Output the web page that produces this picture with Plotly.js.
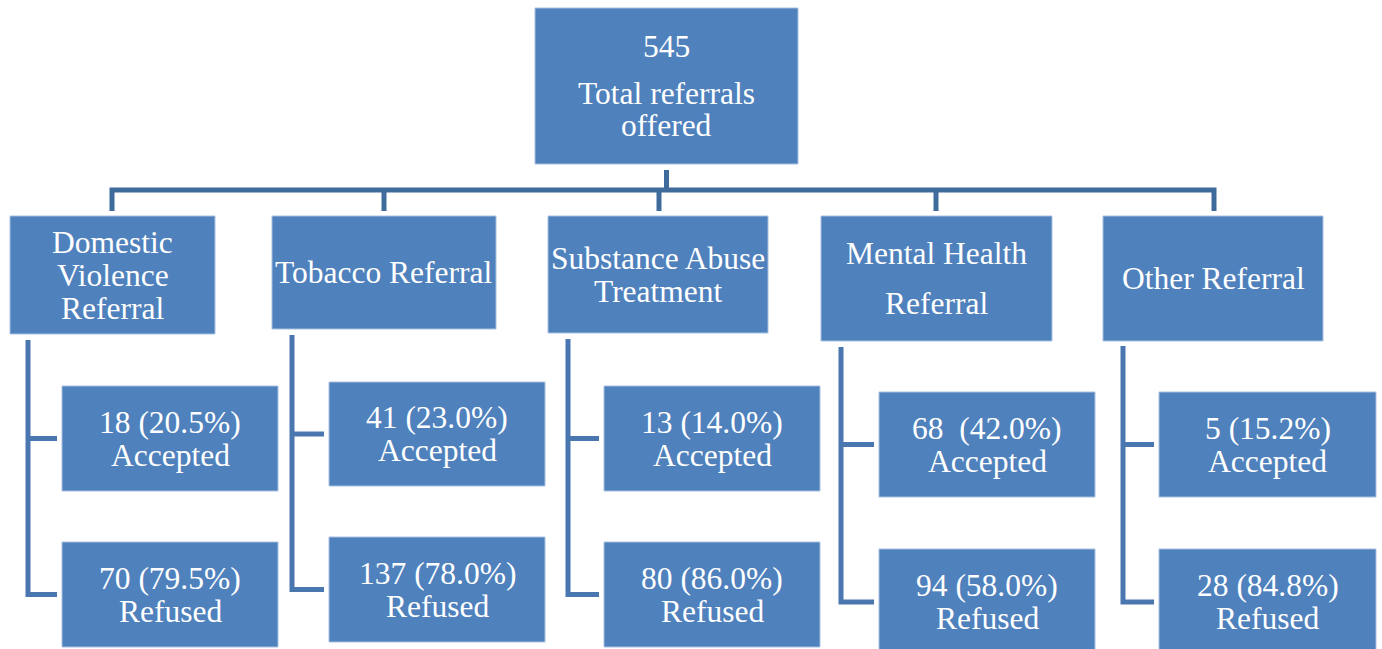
<!DOCTYPE html>
<html>
<head>
<meta charset="utf-8">
<script src="https://cdn.plot.ly/plotly-3.0.1.min.js"></script>
<style>
  html, body { margin: 0; padding: 0; background: #ffffff; }
  #chart { width: 1382px; height: 649px; }
</style>
</head>
<body>
<div id="chart"></div>
<script>
// ---------------- DATA ----------------
const totalOffered = 545;
const totalLabel = ["Total referrals", "offered"];
const categories = [
  ["Domestic", "Violence", "Referral"],
  ["Tobacco Referral"],
  ["Substance Abuse", "Treatment"],
  ["Mental Health", "Referral"],
  ["Other Referral"]
];
const accepted    = [18, 41, 13, 68, 5];
const acceptedPct = ["20.5", "23.0", "14.0", "42.0", "15.2"];
const refused     = [70, 137, 80, 94, 28];
const refusedPct  = ["79.5", "78.0", "86.0", "58.0", "84.8"];
const acceptedLabel = "Accepted";
const refusedLabel  = "Refused";
const countSep = [" ", " ", " ", "\u00A0 ", " "];

// ---------------- LAYOUT GEOMETRY (pixels) ----------------
const W = 1382, H = 649;
const topBox = {x0: 535, x1: 798, y0: 8, y1: 164, lineY: [46, 93, 125]};
const busY = 190;
const catBoxes = [
  {x0: 10,   x1: 215,  y0: 216, y1: 334, spacing: 33},
  {x0: 272,  x1: 496,  y0: 216, y1: 329, spacing: 33},
  {x0: 548,  x1: 768,  y0: 216, y1: 333, spacing: 33},
  {x0: 821,  x1: 1052, y0: 216, y1: 341, spacing: 50},
  {x0: 1103, x1: 1323, y0: 216, y1: 341, spacing: 33}
];
const drops = [112, 384, 659, 936, 1214];
const sideX = [28, 292, 568, 841, 1123];
const sideTop = [340, 335, 339, 347, 346];
const subBoxes = [
  {x0: 62,   x1: 278,  acc: [386, 491], ref: [542, 647]},
  {x0: 329,  x1: 545,  acc: [382, 486], ref: [537, 642]},
  {x0: 604,  x1: 820,  acc: [386, 491], ref: [542, 647]},
  {x0: 879,  x1: 1095, acc: [392, 497], ref: [549, 655]},
  {x0: 1159, x1: 1376, acc: [392, 497], ref: [549, 655]}
];

// ---------------- STYLE ----------------
const boxFill = "#4F81BD";
const boxEdge = "#A9C0DF";
const busColor = "#3F6A9C";
const sideColor = "#4A77AF";
const fontFamily = "Liberation Serif, Times New Roman, serif";
const fontSize = 31.5;
const lineSp = 33;

const shapes = [];
const annotations = [];

function box(x0, x1, y0, y1) {
  shapes.push({type: "rect", xref: "x", yref: "y", x0: x0, x1: x1, y0: y0, y1: y1,
    fillcolor: boxFill, line: {color: boxEdge, width: 1}, layer: "above"});
}
function label(x, y, text) {
  annotations.push({xref: "x", yref: "y", x: x, y: y, text: text, showarrow: false,
    xanchor: "center", yanchor: "middle",
    font: {family: fontFamily, size: fontSize, color: "#ffffff"}});
}
function path(d, color, width) {
  shapes.push({type: "path", xref: "x", yref: "y", path: d,
    line: {color: color, width: width}, layer: "below"});
}
function centredLines(cx, cy, lines, sp) {
  const n = lines.length;
  lines.forEach((t, i) => label(cx, cy + (i - (n - 1) / 2) * sp, t));
}

// top box
box(topBox.x0, topBox.x1, topBox.y0, topBox.y1);
const topCx = (topBox.x0 + topBox.x1) / 2;
[String(totalOffered)].concat(totalLabel).forEach((t, i) => label(topCx, topBox.lineY[i], t));

// bus connector
path(`M ${topCx} ${topBox.y1 + 6} L ${topCx} ${busY}`, busColor, 5);
path(`M ${drops[0]} ${catBoxes[0].y0 - 5} L ${drops[0]} ${busY} L ${drops[drops.length-1]} ${busY} L ${drops[drops.length-1]} ${catBoxes[catBoxes.length-1].y0 - 5}`, busColor, 5);
for (let i = 1; i < drops.length - 1; i++) {
  path(`M ${drops[i]} ${busY} L ${drops[i]} ${catBoxes[i].y0 - 5}`, busColor, 5);
}

categories.forEach((lines, i) => {
  const c = catBoxes[i];
  box(c.x0, c.x1, c.y0, c.y1);
  centredLines((c.x0 + c.x1) / 2, (c.y0 + c.y1) / 2, lines, c.spacing);

  const s = subBoxes[i];
  const accCy = (s.acc[0] + s.acc[1]) / 2;
  const refCy = (s.ref[0] + s.ref[1]) / 2;
  const stubEnd = s.x0 - 5;
  path(`M ${sideX[i]} ${sideTop[i]} L ${sideX[i]} ${refCy} L ${stubEnd} ${refCy}`, sideColor, 5);
  path(`M ${sideX[i]} ${accCy} L ${stubEnd} ${accCy}`, sideColor, 5);

  box(s.x0, s.x1, s.acc[0], s.acc[1]);
  box(s.x0, s.x1, s.ref[0], s.ref[1]);
  const cx = (s.x0 + s.x1) / 2;
  centredLines(cx, accCy, [accepted[i] + countSep[i] + "(" + acceptedPct[i] + "%)", acceptedLabel], lineSp);
  centredLines(cx, refCy, [refused[i] + " (" + refusedPct[i] + "%)", refusedLabel], lineSp);
});

const layout = {
  width: W, height: H,
  margin: {l: 0, r: 0, t: 0, b: 0, pad: 0},
  paper_bgcolor: "#ffffff", plot_bgcolor: "#ffffff",
  showlegend: false,
  xaxis: {range: [0, W], visible: false, fixedrange: true},
  yaxis: {range: [H, 0], visible: false, fixedrange: true},
  shapes: shapes,
  annotations: annotations
};

Plotly.newPlot("chart", [{type: "scatter", x: [], y: [], hoverinfo: "skip", showlegend: false}], layout, {staticPlot: true, displayModeBar: false});
</script>
</body>
</html>
